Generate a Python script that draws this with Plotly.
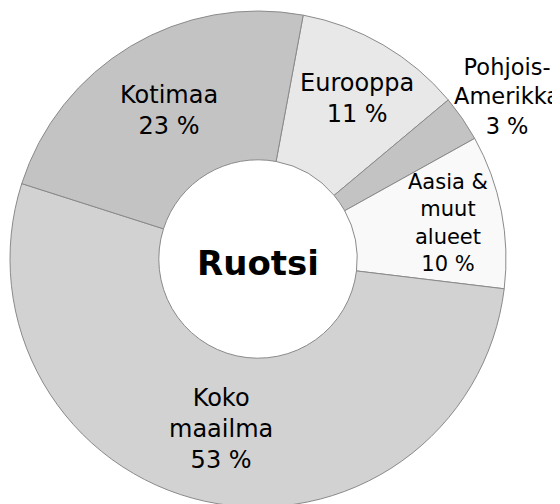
import math
import plotly.graph_objects as go

# ---- data ----
categories = ["Eurooppa", "Pohjois-Amerikka", "Aasia & muut alueet", "Koko maailma", "Kotimaa"]
label_texts = ["Eurooppa<br>11 %", "Pohjois-<br>Amerikka<br>3 %", "Aasia &<br>muut<br>alueet<br>10 %",
               "Koko<br>maailma<br>53 %", "Kotimaa<br>23 %"]
values = [11, 3, 10, 53, 23]
center_title = "Ruotsi"

# ---- style ----
colors = ["#e8e8e8", "#c3c3c3", "#f9f9f9", "#d2d2d2", "#c3c3c3"]
label_radius = [0.76, 1.20, 0.78, 0.70, 0.70]   # fraction of outer radius
label_angle_shift = [1.5, 1.3, 0.3, 0.0, 0.0]   # degrees
label_sizes = [24, 22.5, 21, 24, 24]
rotation = 10.5
W, H = 552, 499
ml, mr, mt, mb = 2, 54, 3, 0
pw, ph = W - ml - mr, H - mt - mb
rpx = min(pw, ph) / 2

fig = go.Figure(go.Pie(
    labels=categories,
    values=values,
    sort=False,
    direction="clockwise",
    rotation=rotation,
    hole=0.40,
    marker=dict(colors=colors, line=dict(color="#8a8a8a", width=1)),
    textinfo="none",
    hoverinfo="label+percent",
    showlegend=False,
))

total = sum(values)
annotations = []
cum = 0
for txt, v, f, da, fs in zip(label_texts, values, label_radius, label_angle_shift, label_sizes):
    mid = math.radians(rotation + (cum + v / 2) / total * 360 + da)
    cum += v
    annotations.append(dict(
        x=0.5 + f * (rpx / pw) * math.sin(mid),
        y=0.5 + f * (rpx / ph) * math.cos(mid),
        xref="paper", yref="paper", text=txt, showarrow=False,
        xanchor="center", yanchor="middle", align="center",
        font=dict(family="DejaVu Sans", size=fs, color="#000000"),
    ))
annotations.append(dict(
    x=0.5, y=0.5 - 4 / ph, xref="paper", yref="paper", text="<b>" + center_title + "</b>",
    showarrow=False, xanchor="center", yanchor="middle",
    font=dict(family="DejaVu Sans", size=34, color="#000000"),
))

fig.update_layout(
    width=W, height=H,
    margin=dict(l=ml, r=mr, t=mt, b=mb),
    paper_bgcolor="#ffffff",
    plot_bgcolor="#ffffff",
    annotations=annotations,
    font=dict(family="DejaVu Sans"),
)

fig.write_html("out.html")
